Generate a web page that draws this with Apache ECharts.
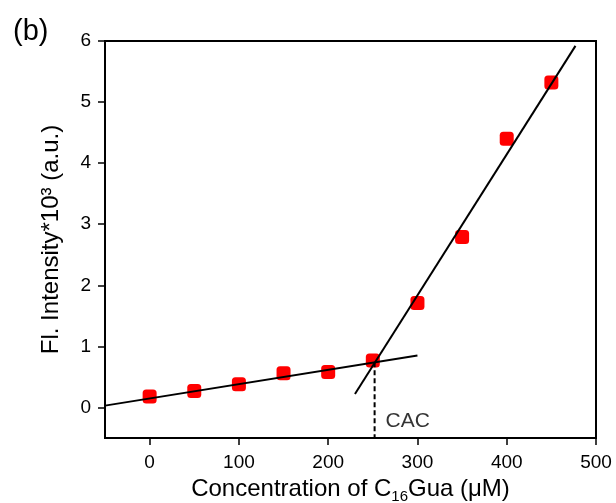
<!DOCTYPE html>
<html>
<head>
<meta charset="utf-8">
<script src="https://cdn.jsdelivr.net/npm/echarts@6/dist/echarts.min.js"></script>
<style>
html, body { margin: 0; padding: 0; background: #fff; }
#main { width: 616px; height: 503px; }
</style>
</head>
<body>
<div id="main"></div>
<script>
// measured points
var concentration = [0, 50, 100, 150, 200, 250, 300, 350, 400, 450];
var intensity = [0.18, 0.27, 0.38, 0.56, 0.58, 0.77, 1.71, 2.79, 4.40, 5.32];

// fitted lines (end points)
var fitLow = [[-50, 0.03], [300, 0.85]];
var fitHigh = [[230, 0.22], [477, 5.92]];
var cacLine = [[252, 0.74], [252, -0.5]];
var cacLabelPos = [[252, -0.22]];

var xTicks = [0, 100, 200, 300, 400, 500];
var yTicks = [0, 1, 2, 3, 4, 5, 6];

var font = 'Liberation Sans, Arial, sans-serif';

var dom = document.getElementById('main');
var myChart = echarts.init(dom, null, { renderer: 'canvas' });

var option = {
	animation: false,
	title: {
		text: '(b)',
		left: 8,
		top: 12,
		textStyle: { fontFamily: font, fontSize: 29, fontWeight: 'normal', color: '#000' }
	},
	grid: {
		left: 105,
		right: 20,
		top: 41,
		bottom: 65,
		outerBoundsMode: 'none',
		show: true,
		borderColor: '#000',
		borderWidth: 2
	},
	xAxis: {
		type: 'value',
		min: -50,
		max: 500,
		splitLine: { show: false },
		axisLine: { onZero: false, lineStyle: { color: '#000', width: 2 } },
		axisTick: { inside: false, length: 7, customValues: xTicks, lineStyle: { color: '#000', width: 1.5 } },
		axisLabel: { customValues: xTicks, fontFamily: font, fontSize: 19, color: '#000', margin: 15 },
		name: 'Concentration of C{sub|16}Gua (μM)',
		nameLocation: 'middle',
		nameGap: 31,
		nameTextStyle: {
			fontFamily: font, fontSize: 24, color: '#000',
			rich: {
				sub: { fontFamily: font, fontSize: 15, color: '#000', padding: [16, 0, 0, 0] }
			}
		}
	},
	yAxis: {
		type: 'value',
		min: -0.5,
		max: 6,
		splitLine: { show: false },
		axisLine: { onZero: false, lineStyle: { color: '#000', width: 2 } },
		axisTick: { inside: false, length: 7, customValues: yTicks, lineStyle: { color: '#000', width: 1.5 } },
		axisLabel: { customValues: yTicks, fontFamily: font, fontSize: 19, color: '#000', margin: 14 },
		name: 'Fl. Intensity*10³ (a.u.)',
		nameLocation: 'middle',
		nameGap: 42,
		nameTextStyle: { fontFamily: font, fontSize: 24, color: '#000' }
	},
	series: [
		{
			type: 'line',
			data: fitLow,
			showSymbol: false,
			lineStyle: { color: '#000', width: 2 },
			z: 3
		},
		{
			type: 'line',
			data: fitHigh,
			showSymbol: false,
			lineStyle: { color: '#000', width: 2 },
			z: 3
		},
		{
			type: 'line',
			data: cacLine,
			showSymbol: false,
			lineStyle: { color: '#000', width: 2, type: [5, 3] },
			z: 3
		},
		{
			type: 'scatter',
			data: cacLabelPos,
			symbolSize: 0,
			label: {
				show: true,
				position: 'right',
				distance: 11,
				formatter: 'CAC',
				fontFamily: font,
				fontSize: 21,
				color: '#000'
			}
		},
		{
			type: 'scatter',
			data: concentration.map(function (c, i) { return [c, intensity[i]]; }),
			symbol: 'roundRect',
			symbolSize: 14,
			itemStyle: { color: '#ff0000', opacity: 1 },
			z: 2
		}
	]
};

myChart.setOption(option);
window.addEventListener('resize', myChart.resize);
</script>
</body>
</html>
